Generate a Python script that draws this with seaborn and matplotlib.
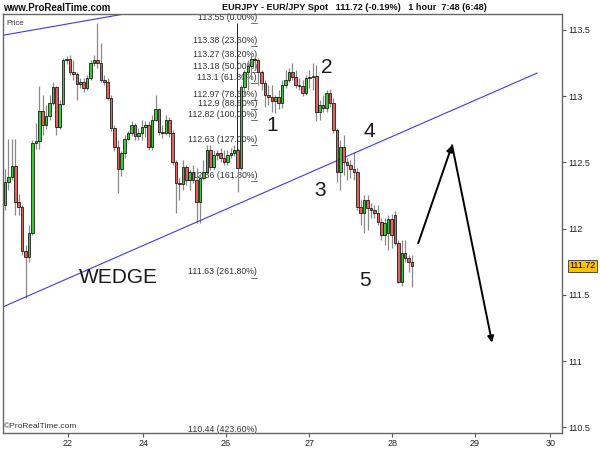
import numpy as np
import matplotlib
matplotlib.use("Agg")
import matplotlib.pyplot as plt
import matplotlib.transforms as mtrans
import seaborn as sns

# hourly EUR/JPY candles
opens = [112.18, 112.35, 112.39, 112.47, 112.20, 112.16, 111.83, 111.79, 111.97, 112.65,
         112.66, 112.89, 112.78, 112.85, 112.95, 113.07, 112.77, 112.94, 113.27, 113.28,
         113.18, 113.17, 113.09, 113.11, 113.06, 113.14, 113.25, 113.27, 113.25, 113.12,
         113.11, 112.99, 112.76, 112.62, 112.45, 112.57, 112.68, 112.72, 112.78, 112.70,
         112.72, 112.77, 112.78, 112.62, 112.82, 112.90, 112.73, 112.72, 112.82, 112.72,
         112.50, 112.345, 112.34, 112.465, 112.37, 112.43, 112.37, 112.20, 112.38, 112.43,
         112.595, 112.465, 112.555, 112.57, 112.535, 112.50, 112.555, 112.57, 112.595, 112.46,
         113.07, 113.18, 113.23, 113.28, 113.27, 113.18, 113.10, 113.01, 112.995, 112.96,
         112.995, 112.95, 113.085, 113.12, 113.18, 113.145, 113.085, 113.08, 113.025, 113.14,
         113.145, 113.15, 112.88, 112.935, 112.91, 113.025, 112.95, 112.745, 112.43, 112.62,
         112.50, 112.48, 112.45, 112.43, 112.16, 112.12, 112.22, 112.155, 112.14, 112.12,
         112.05, 111.955, 111.97, 112.07, 112.10, 111.89, 111.60, 111.82, 111.78, 111.75]
highs = [112.45, 112.68, 112.68, 112.68, 112.26, 112.18, 111.88, 112.03, 112.67, 112.80,
         113.08, 113.01, 112.93, 113.01, 113.11, 113.08, 112.97, 113.29, 113.30, 113.31,
         113.27, 113.18, 113.14, 113.14, 113.16, 113.27, 113.31, 113.55, 113.40, 113.16,
         113.14, 113.01, 112.78, 112.67, 112.59, 112.71, 112.74, 112.81, 112.80, 112.76,
         112.82, 112.81, 112.81, 112.86, 113.01, 112.91, 112.78, 112.86, 112.84, 112.745,
         112.52, 112.38, 112.52, 112.48, 112.445, 112.48, 112.46, 112.405, 112.52, 112.63,
         112.63, 112.595, 112.595, 112.61, 112.595, 112.595, 112.61, 112.63, 112.61, 113.085,
         113.20, 113.27, 113.31, 113.31, 113.29, 113.20, 113.12, 113.085, 113.085, 113.01,
         113.05, 113.12, 113.20, 113.21, 113.25, 113.20, 113.14, 113.12, 113.16, 113.20,
         113.25, 113.235, 112.97, 113.01, 113.05, 113.055, 112.99, 112.76, 112.67, 112.71,
         112.535, 112.52, 112.58, 112.46, 112.22, 112.255, 112.255, 112.195, 112.18, 112.18,
         112.08, 112.08, 112.10, 112.11, 112.13, 111.915, 111.915, 111.915, 111.80, 111.80]
lows = [112.14, 112.29, 112.37, 112.10, 112.10, 111.80, 111.48, 111.75, 111.95, 112.60,
        112.60, 112.71, 112.75, 112.82, 112.93, 112.71, 112.75, 112.93, 113.24, 113.16,
        113.12, 112.97, 113.06, 113.03, 113.05, 113.12, 113.23, 113.21, 113.11, 113.085,
        112.97, 112.74, 112.59, 112.27, 112.40, 112.53, 112.67, 112.70, 112.67, 112.67,
        112.67, 112.69, 112.595, 112.595, 112.81, 112.71, 112.685, 112.71, 112.69, 112.48,
        112.12, 112.22, 112.29, 112.33, 112.29, 112.345, 112.04, 112.04, 112.37, 112.405,
        112.445, 112.445, 112.52, 112.50, 112.48, 112.48, 112.535, 112.55, 112.28, 112.445,
        113.01, 113.05, 113.14, 113.20, 113.085, 113.05, 112.92, 112.935, 112.88, 112.875,
        112.90, 112.91, 113.06, 113.11, 113.12, 113.06, 113.05, 113.00, 113.01, 113.06,
        113.05, 112.81, 112.82, 112.88, 112.88, 112.92, 112.72, 112.35, 112.29, 112.405,
        112.37, 112.38, 112.37, 112.14, 112.03, 111.97, 111.99, 112.08, 112.08, 112.03,
        111.915, 111.88, 111.84, 111.855, 111.88, 111.59, 111.57, 111.75, 111.67, 111.56]
closes = [112.35, 112.39, 112.47, 112.20, 112.16, 111.83, 111.79, 111.97, 112.65, 112.66,
          112.89, 112.78, 112.85, 112.95, 113.07, 112.77, 112.94, 113.27, 113.28, 113.18,
          113.17, 113.09, 113.11, 113.06, 113.14, 113.25, 113.27, 113.25, 113.12, 113.11,
          112.99, 112.76, 112.62, 112.45, 112.57, 112.68, 112.72, 112.78, 112.70, 112.72,
          112.77, 112.78, 112.62, 112.82, 112.90, 112.73, 112.72, 112.82, 112.72, 112.50,
          112.345, 112.34, 112.465, 112.37, 112.43, 112.37, 112.20, 112.38, 112.43, 112.595,
          112.465, 112.555, 112.57, 112.535, 112.50, 112.555, 112.57, 112.595, 112.46, 113.07,
          113.18, 113.23, 113.28, 113.27, 113.18, 113.10, 113.01, 112.995, 112.96, 112.995,
          112.95, 113.085, 113.12, 113.18, 113.145, 113.085, 113.08, 113.025, 113.14, 113.145,
          113.15, 112.88, 112.935, 112.91, 113.025, 112.95, 112.745, 112.43, 112.62, 112.50,
          112.48, 112.45, 112.43, 112.16, 112.12, 112.22, 112.155, 112.14, 112.12, 112.05,
          111.955, 112.04, 112.07, 111.95, 111.89, 111.60, 111.82, 111.78, 111.75, 111.72]

day_ticks = [18.4, 40.4, 64.6, 88.9, 113.2, 137.4, 159.4]
day_labels = ["22", "24", "26", "27", "28", "29", "30"]

fib_levels = [113.55, 113.38, 113.27, 113.18, 113.1, 112.97, 112.9, 112.82,
              112.63, 112.36, 111.63, 110.44]
fib_pcts = ["0.00%", "23.60%", "38.20%", "50.00%", "61.80%", "78.60%", "88.60%",
            "100.00%", "127.00%", "161.80%", "261.80%", "423.60%"]

# drawn trend lines (wedge)
lower_x = [-0.6, 155.6]
lower_y = [111.41, 113.175]
upper_x = [-0.6, 34.8]
upper_y = [113.46, 113.62]

last_price = 111.72

sns.set_theme(style="white")
plt.rcParams["font.family"] = ["Liberation Sans", "DejaVu Sans"]

fig = plt.figure(figsize=(6, 4.5), dpi=100)
ax = fig.add_axes([0.005, 0.0378, 0.932, 0.931])

o = np.array(opens)
h = np.array(highs)
l = np.array(lows)
c = np.array(closes)
idx = np.arange(len(c))
up = c >= o

ax.vlines(idx, l, h, color="#8a8a8a", lw=0.9, zorder=2)
ax.bar(idx, np.maximum(np.abs(c - o), 0.007), bottom=np.minimum(o, c), width=0.75,
       color=np.where(up, "#3fc43f", "#e0625c"), edgecolor="black", linewidth=0.5, zorder=3)

# wedge
sns.lineplot(x=lower_x, y=lower_y, color="#3a3af0", lw=0.8, ax=ax)
sns.lineplot(x=upper_x, y=upper_y, color="#3a3af0", lw=0.8, ax=ax)

# fibonacci levels (drawn under the candles)
fib_x = 69
ax.vlines(fib_x - 1.2, 112.46, fib_levels[0], color="#222222", lw=0.7, zorder=1)
for lev, pct in zip(fib_levels, fib_pcts):
    ax.text(73.7, lev + 0.01, f"{lev:g} ({pct})", ha="right", va="bottom",
            fontsize=6.3, color="#333333", zorder=1)
    ax.plot([72.0, 73.8], [lev, lev], color="#555555", lw=0.6, zorder=1)

# wave labels
for s, xx, yy in [("WEDGE", 33.0, 111.63), ("1", 78.1, 112.78), ("2", 94.2, 113.22),
                  ("3", 92.1, 112.29), ("4", 106.4, 112.73), ("5", 105.3, 111.61)]:
    ax.text(xx, yy, s, ha="center", va="center", fontsize=15, color="#1a1a1a")

# projected move
ax.annotate("", xy=(130.7, 112.63), xytext=(120.8, 111.89),
            arrowprops=dict(arrowstyle="-|>", color="black", lw=1.4, mutation_scale=9,
                            shrinkA=0, shrinkB=0))
ax.annotate("", xy=(142.4, 111.14), xytext=(130.7, 112.63),
            arrowprops=dict(arrowstyle="-|>", color="black", lw=1.4, mutation_scale=9,
                            shrinkA=0, shrinkB=0))

ax.set_xlim(-0.6, 162.9)
ax.set_ylim(110.458, 113.62)
ax.set_xticks(day_ticks)
ax.set_xticklabels(day_labels)
ax.set_yticks([110.5, 111, 111.5, 112, 112.5, 113, 113.5])
ax.set_yticklabels(["110.5", "111", "111.5", "112", "112.5", "113", "113.5"])
ax.yaxis.tick_right()
ax.tick_params(axis="both", which="both", direction="out", length=3, width=0.8,
               color="#555555", labelsize=6.5, labelcolor="#222222", pad=1.5)
ax.tick_params(axis="x", bottom=True)
ax.tick_params(axis="y", right=True, left=False)
ax.set_xlabel("")
ax.set_ylabel("")
for sp in ax.spines.values():
    sp.set_color("#666666")
    sp.set_linewidth(1.0)
ax.grid(False)

# last price tag
trans = mtrans.blended_transform_factory(ax.transAxes, ax.transData)
ax.text(1.012, last_price, f"{last_price:.2f}", transform=trans, ha="left", va="center",
        fontsize=6.5, color="black",
        bbox=dict(boxstyle="square,pad=0.15", fc="#ffc000", ec="#333333", lw=0.6))

ax.text(0.006, 0.985, "Price", transform=ax.transAxes, ha="left", va="top",
        fontsize=5.5, color="#333333")
ax.text(0.002, 0.008, "©ProRealTime.com", transform=ax.transAxes, ha="left", va="bottom",
        fontsize=6, color="#333333")

fig.text(0.005, 1 - 8 / 450, "www.ProRealTime.com", ha="left", va="center",
         fontsize=7, fontweight="bold", color="#111111")
fig.text(222 / 600, 1 - 8 / 450,
         "EURJPY - EUR/JPY Spot   111.72 (-0.19%)   1 hour  7:48 (6:48)",
         ha="left", va="center", fontsize=6.6, fontweight="bold", color="#111111")

fig.savefig("out.png", dpi=100)
